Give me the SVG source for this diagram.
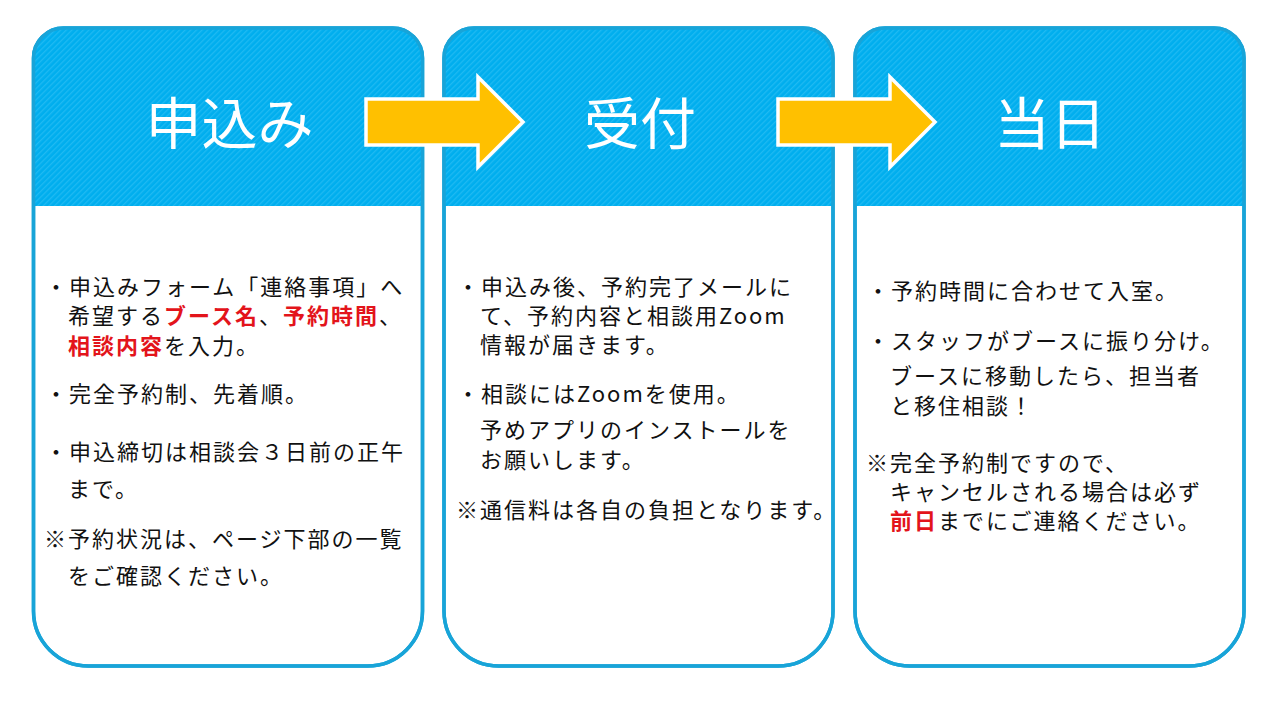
<svg xmlns="http://www.w3.org/2000/svg" width="1280" height="720" viewBox="0 0 1280 720">
<style>
.card{fill:#ffffff;stroke:#18a4d8;stroke-width:3.5}
.hdr{fill:url(#stripes)}
.title{font-family:"Noto Sans CJK JP","Noto Sans",sans-serif;font-size:56px;fill:#ffffff;text-anchor:middle}
.body{font-family:"Noto Sans CJK JP","Noto Sans",sans-serif;font-size:22px;letter-spacing:2px;fill:#111111}
.red{fill:#e3141b;font-weight:bold}
.arrow{fill:#ffc000;stroke:#ffffff;stroke-width:3.5;stroke-linejoin:miter}
</style>
<defs>
<pattern id="stripes" patternUnits="userSpaceOnUse" width="4" height="4" patternTransform="rotate(-45)">
<rect width="4" height="4" fill="#00aeee"/>
<rect width="4" height="1.3" fill="#1fbaf2"/>
</pattern>
<path id="shape" d="M30,0 H359 A30,30 0 0 1 389,30 V583 A55,55 0 0 1 334,638 H55 A55,55 0 0 1 0,583 V30 A30,30 0 0 1 30,0 Z"/>
<path id="head" d="M0,178 V30 A30,30 0 0 1 30,0 H359 A30,30 0 0 1 389,30 V178 Z"/>
</defs>
<rect width="1280" height="720" fill="#ffffff"/>

<g id="node-apply" transform="translate(33.5,28)">
<use href="#shape" class="card"/>
<use href="#head" class="hdr"/>
<use href="#shape" fill="none" stroke="#18a4d8" stroke-width="3.5"/>
<text class="title" x="196" y="116">申込み</text>
</g>
<g id="node-apply-text" class="body">
<text x="45" y="295">・申込みフォーム「連絡事項」へ</text>
<text x="68" y="324">希望する<tspan class="red">ブース名</tspan>、<tspan class="red">予約時間</tspan>、</text>
<text x="68" y="354"><tspan class="red">相談内容</tspan>を入力。</text>
<text x="45" y="402">・完全予約制、先着順。</text>
<text x="45" y="460">・申込締切は相談会３日前の正午</text>
<text x="68" y="497">まで。</text>
<text x="44" y="547">※予約状況は、ページ下部の一覧</text>
<text x="68" y="584">をご確認ください。</text>
</g>

<g id="node-reception" transform="translate(444,28)">
<use href="#shape" class="card"/>
<use href="#head" class="hdr"/>
<use href="#shape" fill="none" stroke="#18a4d8" stroke-width="3.5"/>
<text class="title" x="196" y="116">受付</text>
</g>
<g id="node-reception-text" class="body">
<text x="457" y="295">・申込み後、予約完了メールに</text>
<text x="480" y="324">て、予約内容と相談用Zoom</text>
<text x="480" y="353">情報が届きます。</text>
<text x="457" y="402">・相談にはZoomを使用。</text>
<text x="480" y="438">予めアプリのインストールを</text>
<text x="480" y="468">お願いします。</text>
<text x="456" y="518">※通信料は各自の負担となります。</text>
</g>

<g id="node-day" transform="translate(855,28)">
<use href="#shape" class="card"/>
<use href="#head" class="hdr"/>
<use href="#shape" fill="none" stroke="#18a4d8" stroke-width="3.5"/>
<text class="title" x="195" y="116">当日</text>
</g>
<g id="node-day-text" class="body">
<text x="867" y="299">・予約時間に合わせて入室。</text>
<text x="867" y="349">・スタッフがブースに振り分け。</text>
<text x="890" y="384">ブースに移動したら、担当者</text>
<text x="890" y="414">と移住相談！</text>
<text x="866" y="471">※完全予約制ですので、</text>
<text x="890" y="500">キャンセルされる場合は必ず</text>
<text x="890" y="529"><tspan class="red">前日</tspan>までにご連絡ください。</text>
</g>

<g id="connectors">
<polygon class="arrow" points="366,99 478,99 478,77 523,122 478,167 478,145 366,145"/>
<polygon class="arrow" points="778,99 890,99 890,77 935,122 890,167 890,145 778,145"/>
</g>
</svg>
